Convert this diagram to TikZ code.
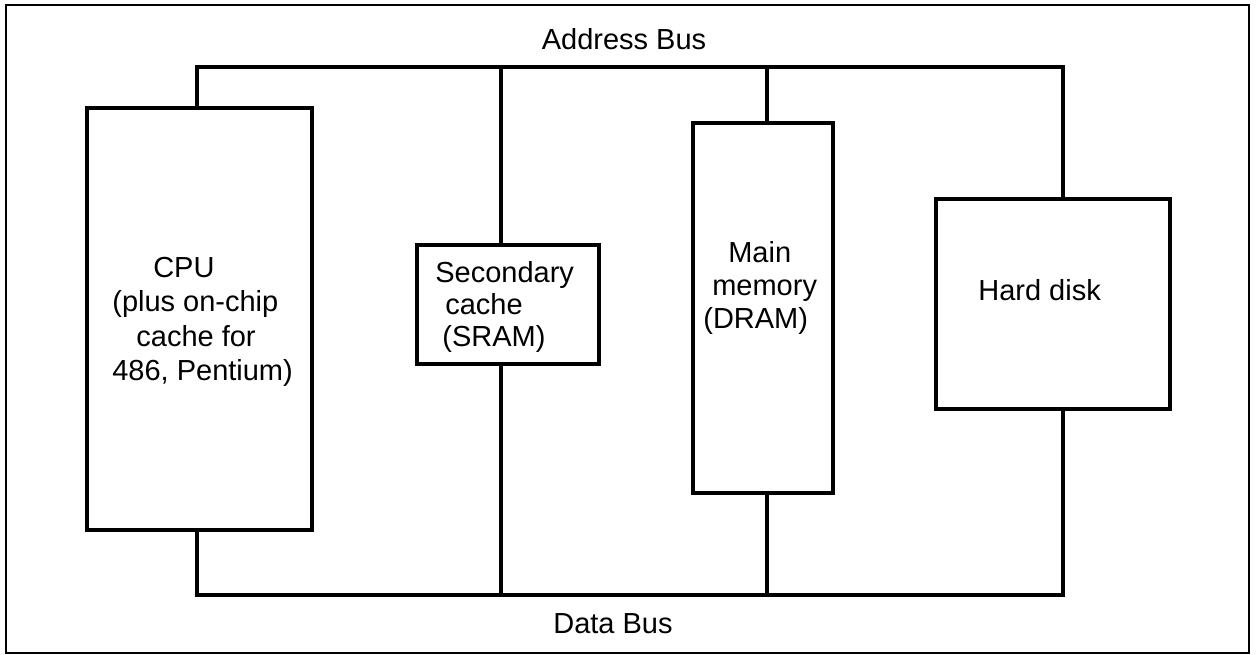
\documentclass[tikz,border=0pt]{standalone}
\usepackage{fontspec}
\setmainfont{Liberation Sans}
\tikzset{
  box/.style={draw, line width=1.8pt, fill=white, inner sep=0pt},
  bus/.style={line width=1.8pt, line cap=rect},
  lbl/.style={inner sep=0pt, align=left, font=\fontsize{16.5}{19.5}\selectfont},
  buslbl/.style={inner sep=0pt, font=\fontsize{16.5}{19.5}\selectfont}
}
\begin{document}
\begin{tikzpicture}[x=0.02cm,y=-0.02cm]
\useasboundingbox (0,0) rectangle (1256,655);
% outer frame
\draw[line width=1.5pt] (6,5) rectangle (1249,653);
% bus tap coordinates
\coordinate (a1) at (197,67);
\coordinate (a2) at (501,67);
\coordinate (a3) at (767,67);
\coordinate (a4) at (1063,67);
\coordinate (d1) at (197,595);
\coordinate (d2) at (501,595);
\coordinate (d3) at (767,595);
\coordinate (d4) at (1063,595);
% buses
\draw[bus] (a1) -- (a4);
\draw[bus] (d1) -- (d4);
\draw[bus] (a2) -- (d2);
% boxes
\node[box, minimum width=4.5cm, minimum height=8.44cm] (cpu) at (199.5,319) {};
\node[box, minimum width=3.64cm, minimum height=2.38cm] (sram) at (508,304.5) {};
\node[box, minimum width=2.8cm, minimum height=7.4cm] (mem) at (763,308) {};
\node[box, minimum width=4.68cm, minimum height=4.2cm] (hdd) at (1053,304) {};
% connectors to buses
\draw[bus] (a1) -- (cpu.north -| a1);
\draw[bus] (cpu.south -| d1) -- (d1);
\draw[bus] (a3) -- (mem.north -| a3);
\draw[bus] (mem.south -| d3) -- (d3);
\draw[bus] (a4) -- (hdd.north -| a4);
\draw[bus] (hdd.south -| d4) -- (d4);
% texts
\node[lbl, anchor=west] (cputxt) at (112,322)
  {\hspace*{23.3pt}CPU\\(plus on-chip\\\hspace*{13.7pt}cache for\\486, Pentium)};
\node[lbl, anchor=west, font=\fontsize{16.5}{18.2}\selectfont] (sramtxt) at (435,307)
  {Secondary\\\hspace*{5.7pt}cache\\\hspace*{4pt}(SRAM)};
\node[lbl, anchor=west, font=\fontsize{16.5}{18.5}\selectfont] (memtxt) at (703,288)
  {\hspace*{14.2pt}Main\\\hspace*{5.1pt}memory\\(DRAM)};
\node[lbl, anchor=west] (hddtxt) at (978,290) {Hard disk};
\node[buslbl, anchor=base] (abus) at (624,50) {Address Bus};
\node[buslbl, anchor=base] (dbus) at (613,633) {Data Bus};
\end{tikzpicture}
\end{document}
